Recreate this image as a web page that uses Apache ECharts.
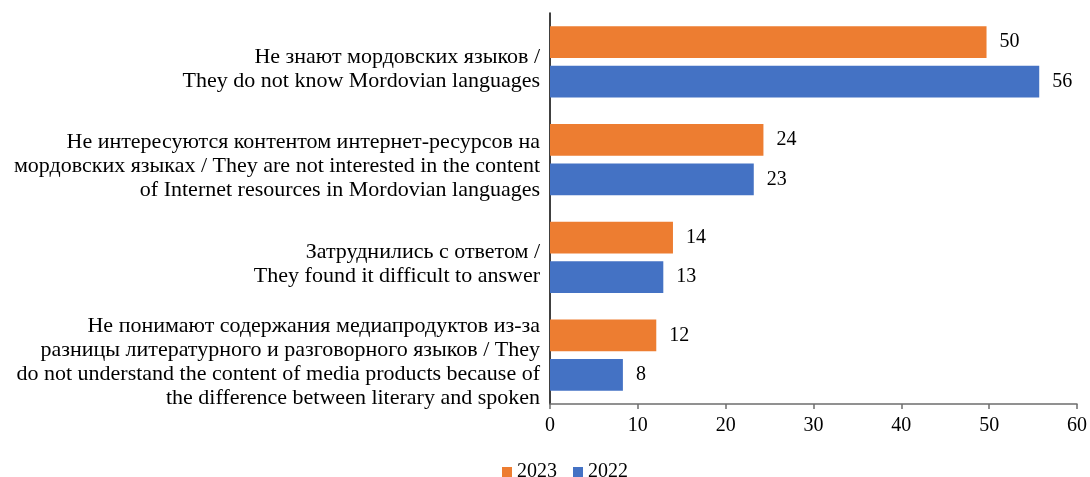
<!DOCTYPE html>
<html>
<head>
<meta charset="utf-8">
<script src="https://cdn.jsdelivr.net/npm/echarts@6/dist/echarts.min.js"></script>
<style>
html,body{margin:0;padding:0;background:#fff;}
#chart{width:1090px;height:477px;}
</style>
</head>
<body>
<div id="chart"></div>
<script>
var categories = [
  'Не знают мордовских языков /\nThey do not know Mordovian languages',
  'Не интересуются контентом интернет-ресурсов на\nмордовских языках / They are not interested in the content\nof Internet resources in Mordovian languages',
  'Затруднились с ответом /\nThey found it difficult to answer',
  'Не понимают содержания медиапродуктов из-за\nразницы литературного и разговорного языков / They\ndo not understand the content of media products because of\nthe difference between literary and spoken'
];
var seriesNames = ['2023', '2022'];
var values2023 = [49.7, 24.3, 14.0, 12.1];
var values2022 = [55.7, 23.2, 12.9, 8.3];
var xTicks = [0, 10, 20, 30, 40, 50, 60];

var FONT = '"Liberation Serif", "Times New Roman", serif';
var chart = echarts.init(document.getElementById('chart'), null, {renderer: 'canvas'});

function barSeries(name, data, color) {
  return {
    name: name,
    type: 'bar',
    data: data,
    barGap: '25%',
    barCategoryGap: '27%',
    itemStyle: {color: color},
    label: {
      show: true,
      position: 'right',
      distance: 13,
      fontFamily: FONT,
      fontSize: 20,
      color: '#000',
      formatter: function (p) { return Math.round(p.value); }
    }
  };
}

chart.setOption({
  animation: false,
  backgroundColor: '#fff',
  grid: {left: 550, right: 12, top: 13, bottom: 73, containLabel: false},
  legend: {
    data: seriesNames,
    left: 497,
    top: 457,
    itemWidth: 10,
    itemHeight: 10,
    itemGap: 16,
    icon: 'rect',
    textStyle: {fontFamily: FONT, fontSize: 20, color: '#000'}
  },
  xAxis: {
    type: 'value',
    min: xTicks[0],
    max: xTicks[xTicks.length - 1],
    interval: 10,
    splitLine: {show: false},
    axisLine: {show: true, lineStyle: {color: '#6e6e6e', width: 1.5}},
    axisTick: {show: true, length: 5, lineStyle: {color: '#6e6e6e', width: 1.5}},
    axisLabel: {fontFamily: FONT, fontSize: 20, color: '#000', margin: 12}
  },
  yAxis: {
    type: 'category',
    data: categories,
    inverse: true,
    axisLine: {show: true, lineStyle: {color: '#000', width: 1.5}},
    axisTick: {show: false},
    axisLabel: {
      interval: 0,
      hideOverlap: false,
      fontFamily: FONT,
      fontSize: 22,
      lineHeight: 24,
      color: '#000',
      align: 'right',
      margin: 10,
      formatter: function (v) {
        return '{sp| }\n' + v.split('\n').map(function (l) { return '{t|' + l + '}'; }).join('\n');
      },
      rich: {
        sp: {fontSize: 4, lineHeight: 14, fontFamily: FONT},
        t: {fontFamily: FONT, fontSize: 22, lineHeight: 24, color: '#000', align: 'right'}
      }
    }
  },
  series: [
    barSeries(seriesNames[0], values2023, '#ED7D31'),
    barSeries(seriesNames[1], values2022, '#4472C4')
  ]
});
</script>
</body>
</html>
